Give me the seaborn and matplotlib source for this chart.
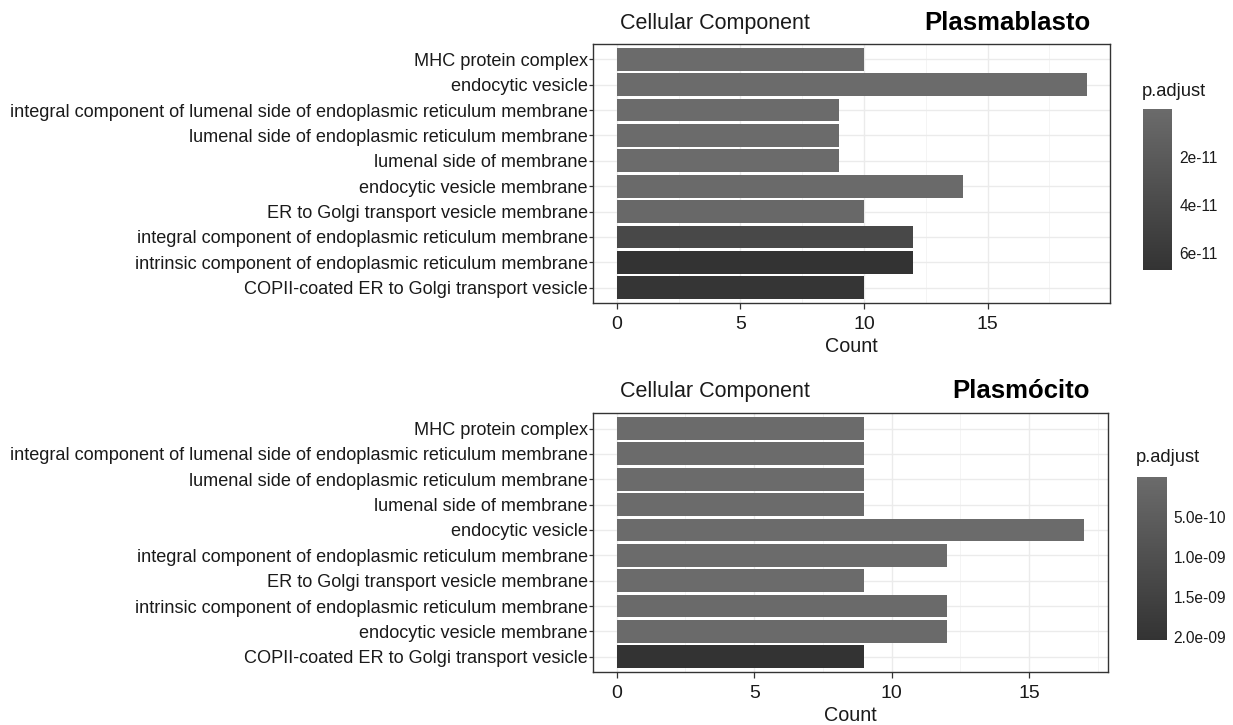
import numpy as np
import pandas as pd
import matplotlib
matplotlib.use("Agg")
import matplotlib.pyplot as plt
import seaborn as sns
from matplotlib.colors import LinearSegmentedColormap, Normalize
from matplotlib.cm import ScalarMappable

# ---------------- data ----------------
top_terms = [
    "MHC protein complex",
    "endocytic vesicle",
    "integral component of lumenal side of endoplasmic reticulum membrane",
    "lumenal side of endoplasmic reticulum membrane",
    "lumenal side of membrane",
    "endocytic vesicle membrane",
    "ER to Golgi transport vesicle membrane",
    "integral component of endoplasmic reticulum membrane",
    "intrinsic component of endoplasmic reticulum membrane",
    "COPII-coated ER to Golgi transport vesicle",
]
top_counts = [10, 19, 9, 9, 9, 14, 10, 12, 12, 10]
top_padj = [1.0e-13, 2.0e-13, 5.0e-13, 5.0e-13, 5.0e-13, 1.5e-12, 3.5e-12, 4.2e-11, 6.7e-11, 6.5e-11]
top_cbar_ticks = [2e-11, 4e-11, 6e-11]
top_cbar_labels = ["2e-11", "4e-11", "6e-11"]

bot_terms = [
    "MHC protein complex",
    "integral component of lumenal side of endoplasmic reticulum membrane",
    "lumenal side of endoplasmic reticulum membrane",
    "lumenal side of membrane",
    "endocytic vesicle",
    "integral component of endoplasmic reticulum membrane",
    "ER to Golgi transport vesicle membrane",
    "intrinsic component of endoplasmic reticulum membrane",
    "endocytic vesicle membrane",
    "COPII-coated ER to Golgi transport vesicle",
]
bot_counts = [9, 9, 9, 9, 17, 12, 9, 12, 12, 9]
bot_padj = [1.0e-12, 2.0e-12, 2.0e-12, 2.0e-12, 5.0e-12, 1.5e-11, 2.0e-11, 3.0e-11, 4.0e-11, 2.04e-9]
bot_cbar_ticks = [5e-10, 1e-9, 1.5e-9, 2e-9]
bot_cbar_labels = ["5.0e-10", "1.0e-09", "1.5e-09", "2.0e-09"]

x_ticks = [0, 5, 10, 15]
panel_title = "Cellular Component"
names = ["Plasmablasto", "Plasmócito"]

# ---------------- style ----------------
sns.set_theme(style="white")
plt.rcParams["font.family"] = ["Liberation Sans", "DejaVu Sans"]

cmap = LinearSegmentedColormap.from_list("grey", ["#6b6b6b", "#333333"])
TXT = "#1a1a1a"

fig = plt.figure(figsize=(12.33, 7.25), dpi=100)
fig.patch.set_facecolor("white")

W, H = 1233.0, 725.0
def rect(x0, y0, x1, y1):
    return [x0 / W, 1 - y1 / H, (x1 - x0) / W, (y1 - y0) / H]

panels = [
    dict(terms=top_terms, counts=top_counts, padj=top_padj, ticks=top_cbar_ticks,
         labels=top_cbar_labels, ax=rect(593.3, 44, 1110, 303),
         cax=rect(1142.7, 109, 1172.3, 270), title_y=23, name=names[0],
         cbt=(1142, 92)),
    dict(terms=bot_terms, counts=bot_counts, padj=bot_padj, ticks=bot_cbar_ticks,
         labels=bot_cbar_labels, ax=rect(593.3, 413.3, 1107.6, 672),
         cax=rect(1136.7, 477, 1166.7, 640), title_y=391, name=names[1],
         cbt=(1136, 458)),
]

for p in panels:
    ax = fig.add_axes(p["ax"])
    vmin, vmax = min(p["padj"]), max(p["padj"])
    norm = Normalize(vmin=vmin, vmax=vmax)
    df = pd.DataFrame({"Description": p["terms"], "Count": p["counts"], "p.adjust": p["padj"]})
    pal = {t: cmap(norm(v)) for t, v in zip(df["Description"], df["p.adjust"])}
    sns.barplot(data=df, x="Count", y="Description", hue="Description", palette=pal,
                legend=False, width=0.9, saturation=1, orient="h", ax=ax,
                edgecolor="none", linewidth=0, zorder=3)
    xmax = max(p["counts"])
    pad = 0.05 * xmax
    ax.set_xlim(-pad, xmax + pad)
    ax.set_ylim(len(p["terms"]) - 0.4, -0.6)
    ax.set_xticks(x_ticks)
    ax.set_xticks([t + 2.5 for t in x_ticks], minor=True)
    ax.grid(True, which="major", axis="both", color="#ebebeb", linewidth=1.0, zorder=0)
    ax.grid(True, which="minor", axis="x", color="#f2f2f2", linewidth=0.6, zorder=0)
    ax.set_axisbelow(True)
    for s in ax.spines.values():
        s.set_color("#333333")
        s.set_linewidth(1.0)
    ax.tick_params(axis="y", which="major", direction="out", length=3, width=0.9,
                   color="#333333", labelsize=13.1, labelcolor=TXT, pad=1, left=True)
    ax.tick_params(axis="x", which="major", direction="out", length=4, width=0.9,
                   color="#333333", labelsize=14, labelcolor=TXT, pad=5, bottom=True)
    ax.tick_params(axis="x", which="minor", length=0)
    ax.set_ylabel("")
    ax.set_xlabel("Count", fontsize=14.2, color=TXT, labelpad=3)

    fig.text(620 / W, 1 - p["title_y"] / H, panel_title, fontsize=15.5, color=TXT,
             ha="left", va="center")
    fig.text(1090 / W, 1 - p["title_y"] / H, p["name"], fontsize=18.5, fontweight="bold",
             color="black", ha="right", va="center")

    cax = fig.add_axes(p["cax"])
    sm = ScalarMappable(norm=norm, cmap=cmap)
    cb = fig.colorbar(sm, cax=cax)
    cb.outline.set_visible(False)
    cax.invert_yaxis()
    cb.set_ticks(p["ticks"])
    cb.set_ticklabels(p["labels"])
    cax.yaxis.set_ticks_position("both")
    cax.tick_params(axis="y", direction="in", length=5, width=1, color="white",
                    labelsize=11.2, labelcolor=TXT, pad=5, labelright=True, labelleft=False)
    fig.text(p["cbt"][0] / W, 1 - p["cbt"][1] / H, "p.adjust", fontsize=13.2, color=TXT,
             ha="left", va="center")

fig.savefig("out.png", dpi=100, facecolor="white")
